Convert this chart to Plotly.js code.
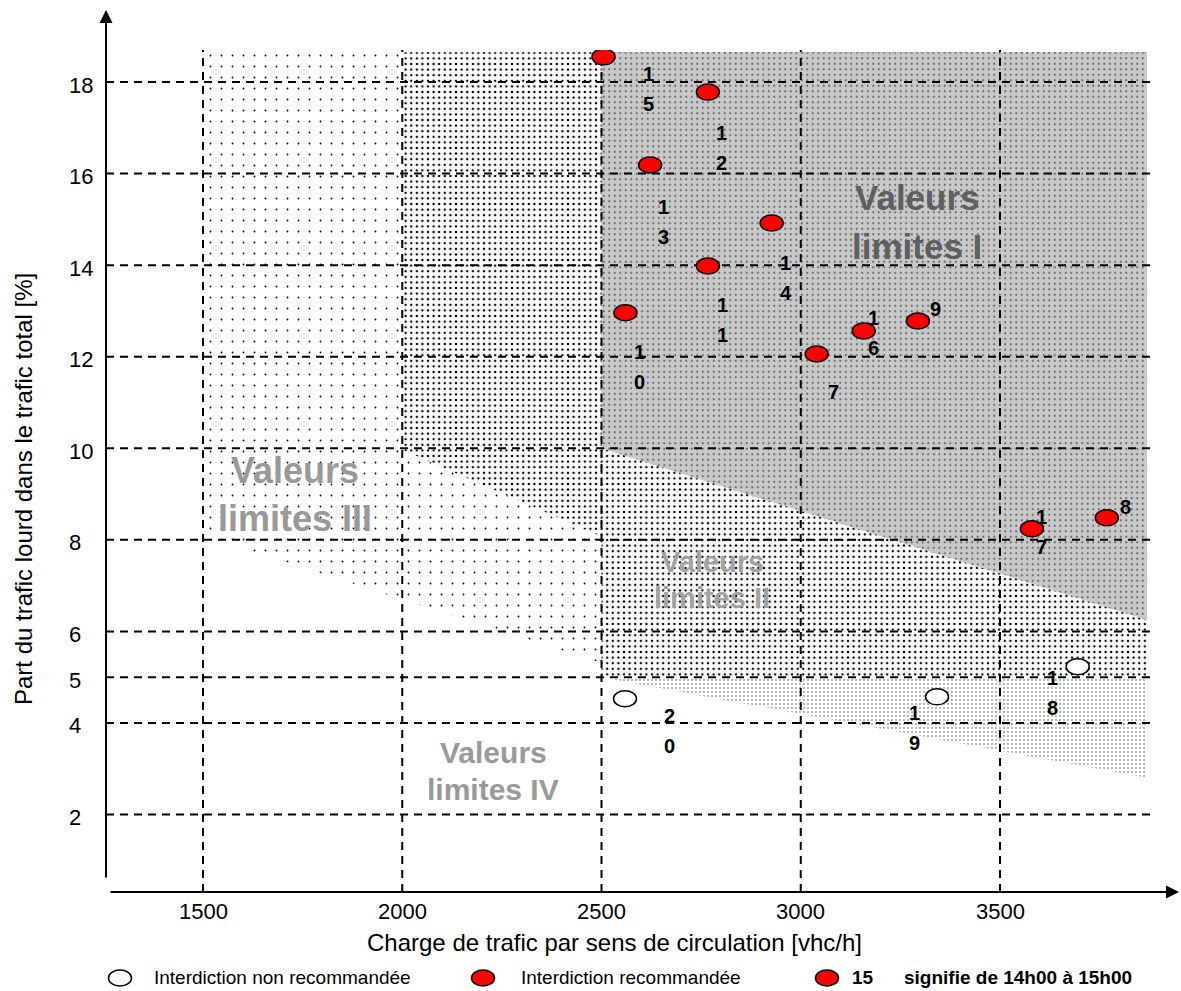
<!DOCTYPE html>
<html><head><meta charset="utf-8">
<script src="https://cdn.plot.ly/plotly-3.0.1.min.js"></script>
<style>html,body{margin:0;padding:0;background:#fff}#chart{width:1181px;height:991px}</style>
</head><body><div id="chart"></div>
<script>
// ---------------- data ----------------
const xTicks = [1500, 2000, 2500, 3000, 3500];
const yTicks = [2, 4, 5, 6, 8, 10, 12, 14, 16, 18];

const recommendedX    = [2505, 2767, 2622, 2927, 2767, 2560, 3040, 3158, 3294, 3580, 3768];
const recommendedY    = [18.55, 17.78, 16.19, 14.92, 13.98, 12.96, 12.06, 12.56, 12.78, 8.24, 8.48];
const recommendedHour = ['15', '12', '13', '14', '11', '10', '7', '16', '9', '17', '8'];

const notRecommendedX    = [3695, 3342, 2559];
const notRecommendedY    = [5.23, 4.57, 4.53];
const notRecommendedHour = ['18', '19', '20'];

// limit-value zones (boundary vertices: traffic load, heavy share %)
const zoneIIIx = [1500, 2500, 2500, 1500];
const zoneIIIy = [18.65, 18.65, 5.31, 8.09];
const zoneIIx  = [2000, 3869, 3869, 2500, 2500, 2000];
const zoneIIy  = [18.65, 18.65, 5.0, 5.0, 8.07, 9.97];
const zoneIIbx = [2500, 3869, 3869];
const zoneIIby = [5.0, 5.0, 2.8];
const zoneIx   = [2500, 3869, 3869, 2500];
const zoneIy   = [18.65, 18.65, 6.25, 10.0];

const xTitle = 'Charge de trafic par sens de circulation [vhc/h]';
const yTitle = 'Part du trafic lourd dans le trafic total [%]';
const legendTexts = ['Interdiction non recommandée', 'Interdiction recommandée', 'signifie de 14h00 à 15h00'];
const legendCode = '15';

// ---------------- styling / placement ----------------
const FONT = 'Liberation Sans, Arial, sans-serif';
const L = 106, R = 1151, T = 50, B = 892;
const px2x = p => (p - L) / (R - L);
const py2y = p => (B - p) / (B - T);

// label offsets in px (dx right, dy down) of first digit relative to the point
const labelOffset = {
  '15': [45, 17], '12': [14, 41], '13': [13, 42], '14': [14, 40], '11': [15, 39],
  '10': [14, 39], '7': [17, 38], '16': [10, -13], '9': [18, -12], '17': [10, -12],
  '8': [19, -11], '18': [-25, 11], '19': [-23, 16], '20': [44, 17]
};
const DIGIT_STEP = 30;

const traces = [
  {x: zoneIIIx, y: zoneIIIy, fillpattern: {shape: '.', size: 11, solidity: 0.022, fgcolor: '#000', bgcolor: '#fff', fgopacity: 1}},
  {x: zoneIIx, y: zoneIIy, fillpattern: {shape: '.', size: 5.6, solidity: 0.15, fgcolor: '#000', bgcolor: '#fff', fgopacity: 1}},
  {x: zoneIIbx, y: zoneIIby, fillpattern: {shape: '.', size: 4, solidity: 0.1, fgcolor: '#444', bgcolor: '#fff', fgopacity: 1}},
  {x: zoneIx, y: zoneIy, fillpattern: {shape: '.', size: 5.5, solidity: 0.12, fgcolor: '#6a6a6a', bgcolor: '#c9c9c9', fgopacity: 1}}
].map(t => Object.assign({
  type: 'scatter', mode: 'lines', fill: 'toself', line: {width: 0, color: 'rgba(0,0,0,0)'},
  hoverinfo: 'skip', showlegend: false
}, t));

const gridLine = {color: '#000', width: 2, dash: '8px,6px'};
const shapes = [];
xTicks.forEach(v => shapes.push({type: 'line', xref: 'x', yref: 'paper', x0: v, x1: v, y0: 0, y1: 1, line: gridLine, layer: 'above'}));
yTicks.forEach(v => shapes.push({type: 'line', xref: 'paper', yref: 'y', x0: 0, x1: 1, y0: v, y1: v, line: gridLine, layer: 'above'}));

function ellipse(xv, yv, fill, xref, yref) {
  return {type: 'circle', xref: xref, yref: yref, xsizemode: 'pixel', ysizemode: 'pixel',
    xanchor: xv, yanchor: yv, x0: -11.5, x1: 11.5, y0: -8, y1: 8,
    fillcolor: fill, line: {color: '#000', width: 1.5}, layer: 'above'};
}
recommendedX.forEach((xv, i) => shapes.push(ellipse(xv, recommendedY[i], '#ff0000', 'x', 'y')));
notRecommendedX.forEach((xv, i) => shapes.push(ellipse(xv, notRecommendedY[i], '#ffffff', 'x', 'y')));

const annotations = [];
// point hour labels (digits stacked)
function addLabel(xv, yv, hour) {
  const off = labelOffset[hour];
  hour.split('').forEach((ch, k) => {
    annotations.push({x: xv, y: yv, xref: 'x', yref: 'y', text: ch, showarrow: false,
      xshift: off[0], yshift: -(off[1] + k * DIGIT_STEP), xanchor: 'center', yanchor: 'middle',
      font: {family: FONT, size: 20, color: '#000', weight: 'bold'}});
  });
}
recommendedX.forEach((xv, i) => addLabel(xv, recommendedY[i], recommendedHour[i]));
notRecommendedX.forEach((xv, i) => addLabel(xv, notRecommendedY[i], notRecommendedHour[i]));

// tick labels
yTicks.forEach(v => annotations.push({x: px2x(67), y: v, xref: 'paper', yref: 'y', text: String(v),
  showarrow: false, xanchor: 'left', yanchor: 'middle', yshift: -3, font: {family: FONT, size: 22, color: '#000'}}));
xTicks.forEach(v => annotations.push({x: v, y: py2y(911), xref: 'x', yref: 'paper', text: String(v),
  showarrow: false, xanchor: 'center', yanchor: 'middle', font: {family: FONT, size: 22, color: '#000'}}));

// axis titles
annotations.push({x: px2x(614), y: py2y(942), xref: 'paper', yref: 'paper', text: xTitle, showarrow: false,
  xanchor: 'center', yanchor: 'middle', font: {family: FONT, size: 24, color: '#000'}});
annotations.push({x: px2x(23), y: py2y(489), xref: 'paper', yref: 'paper', text: yTitle, showarrow: false,
  textangle: -90, xanchor: 'center', yanchor: 'middle', font: {family: FONT, size: 24, color: '#000'}});

// zone labels
const zoneLabels = [
  {lines: ['Valeurs', 'limites I'], px: 917, py: [197, 246], size: 35, color: '#5f5f5f'},
  {lines: ['Valeurs', 'limites III'], px: 295, py: [470, 518], size: 36, color: '#999999'},
  {lines: ['Valeurs', 'limites II'], px: 712, py: [562, 598], size: 29, color: '#a3a3a3'},
  {lines: ['Valeurs', 'limites IV'], px: 493, py: [752, 789], size: 30, color: '#999999'}
];
zoneLabels.forEach(z => z.lines.forEach((t, k) => annotations.push({x: px2x(z.px), y: py2y(z.py[k]),
  xref: 'paper', yref: 'paper', text: t, showarrow: false, xanchor: 'center', yanchor: 'middle',
  font: {family: FONT, size: z.size, color: z.color, weight: 'bold'}})));

// axes with arrows
annotations.push({xref: 'paper', yref: 'paper', x: 0, y: py2y(10), ax: 0, ay: 869, axref: 'pixel', ayref: 'pixel',
  text: '', showarrow: true, arrowhead: 2, arrowsize: 1.3, arrowwidth: 2, arrowcolor: '#000', standoff: 0});
annotations.push({xref: 'paper', yref: 'paper', x: px2x(1179), y: 0, ax: -1070, ay: 0, axref: 'pixel', ayref: 'pixel',
  text: '', showarrow: true, arrowhead: 2, arrowsize: 1.3, arrowwidth: 2, arrowcolor: '#000', standoff: 0});

// legend
const LY = py2y(978);
shapes.push(ellipse(px2x(120), LY, '#ffffff', 'paper', 'paper'));
shapes.push(ellipse(px2x(483), LY, '#ff0000', 'paper', 'paper'));
shapes.push(ellipse(px2x(827), LY, '#ff0000', 'paper', 'paper'));
annotations.push({x: px2x(152), y: LY, xref: 'paper', yref: 'paper', text: legendTexts[0], showarrow: false,
  xanchor: 'left', yanchor: 'middle', font: {family: FONT, size: 19, color: '#000'}});
annotations.push({x: px2x(519), y: LY, xref: 'paper', yref: 'paper', text: legendTexts[1], showarrow: false,
  xanchor: 'left', yanchor: 'middle', font: {family: FONT, size: 19, color: '#000'}});
annotations.push({x: px2x(850), y: LY, xref: 'paper', yref: 'paper', text: legendCode, showarrow: false,
  xanchor: 'left', yanchor: 'middle', font: {family: FONT, size: 19, color: '#000', weight: 'bold'}});
annotations.push({x: px2x(902), y: LY, xref: 'paper', yref: 'paper', text: legendTexts[2], showarrow: false,
  xanchor: 'left', yanchor: 'middle', font: {family: FONT, size: 19, color: '#000', weight: 'bold'}});

const layout = {
  width: 1181, height: 991,
  margin: {l: L, r: 1181 - R, t: T, b: 991 - B},
  paper_bgcolor: '#fff', plot_bgcolor: '#fff',
  showlegend: false,
  xaxis: {range: [1256.6, 3878.9], showgrid: false, zeroline: false, showline: false, showticklabels: false, ticks: '', fixedrange: true},
  yaxis: {range: [0.307, 18.70], showgrid: false, zeroline: false, showline: false, showticklabels: false, ticks: '', fixedrange: true},
  shapes: shapes,
  annotations: annotations,
  font: {family: FONT}
};

Plotly.newPlot('chart', traces, layout, {staticPlot: true, displayModeBar: false});
</script>
</body></html>
